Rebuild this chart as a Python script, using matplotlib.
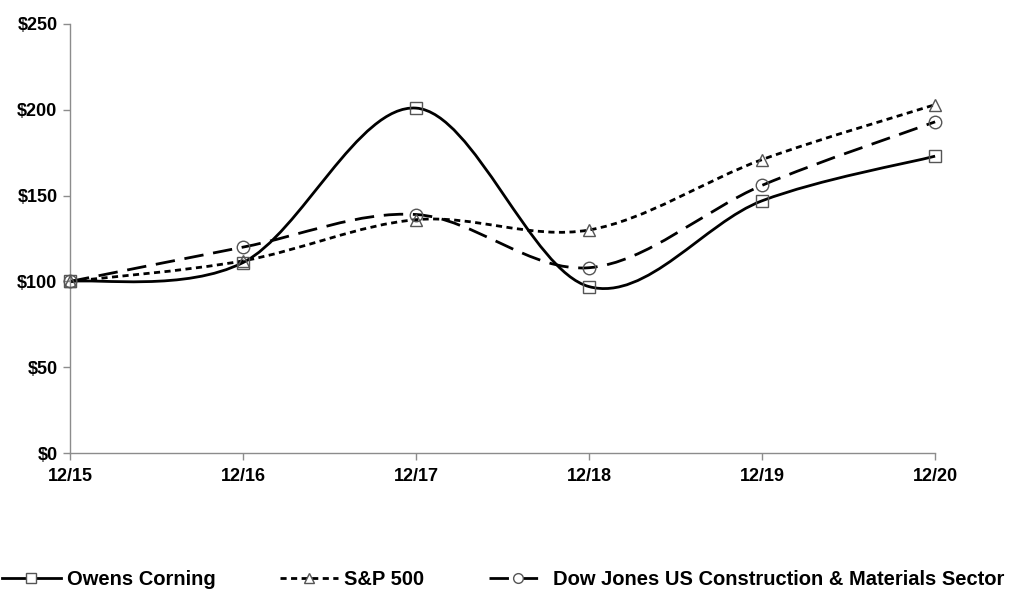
import matplotlib
matplotlib.use("Agg")
import matplotlib.pyplot as plt
import numpy as np
from matplotlib.lines import Line2D
from matplotlib.path import Path
from matplotlib.patches import PathPatch

plt.rcParams["font.family"] = ["Liberation Sans", "DejaVu Sans"]
plt.rcParams["font.weight"] = "bold"

# data
years = ["12/15", "12/16", "12/17", "12/18", "12/19", "12/20"]
owens = [100, 111, 201, 97, 147, 173]
sp500 = [100, 112, 136, 130, 171, 203]
dowjones = [100, 120, 139, 108, 156, 193]
y_ticks = [0, 50, 100, 150, 200, 250]


def smooth_path(xs, ys):
    # Excel style smoothed line: cubic bezier segments with catmull-rom tangents
    pts = np.column_stack([xs, ys]).astype(float)
    n = len(pts)
    verts = [pts[0]]
    codes = [Path.MOVETO]
    for i in range(n - 1):
        p_prev = pts[i - 1] if i > 0 else pts[i]
        p_next2 = pts[i + 2] if i + 2 < n else pts[i + 1]
        c1 = pts[i] + (pts[i + 1] - p_prev) / 6.0
        c2 = pts[i + 1] - (p_next2 - pts[i]) / 6.0
        verts += [c1, c2, pts[i + 1]]
        codes += [Path.CURVE4] * 3
    return Path(verts, codes)


series = [
    ("Owens Corning", owens, "s", (None, None), 9),
    ("S&P 500", sp500, "^", (2.2, 1.6), 9),
    ("Dow Jones US Construction & Materials Sector", dowjones, "o", (7.0, 3.5), 9),
]

fig = plt.figure(figsize=(10.13, 6.09), dpi=100)
ax = fig.add_axes([0.0691, 0.256, 0.854, 0.7046])

x = np.arange(len(years))
handles = []
for label, vals, mk, dash, ms in series:
    patch = PathPatch(smooth_path(x, vals), facecolor="none", edgecolor="black",
                      lw=2.0, capstyle="butt", clip_on=False)
    if dash[0] is not None:
        patch.set_linestyle((0, dash))
    ax.add_patch(patch)
    ax.plot(x, vals, linestyle="none", marker=mk, markersize=ms,
            markerfacecolor="none", markeredgecolor="#555555", markeredgewidth=1.0,
            zorder=3, clip_on=False)
    h = Line2D([], [], color="black", lw=2.0, marker=mk, markersize=7,
               markerfacecolor="white", markeredgecolor="#555555", markeredgewidth=1.0)
    if dash[0] is not None:
        h.set_dashes(dash)
    handles.append((h, label))

ax.set_xlim(0, len(years) - 1)
ax.set_ylim(0, 250)
ax.set_xticks(x)
ax.set_xticklabels(years)
ax.set_yticks(y_ticks)
ax.set_yticklabels([f"${v}" for v in y_ticks])
for lbl in ax.get_xticklabels() + ax.get_yticklabels():
    lbl.set_fontsize(13)
    lbl.set_fontweight("bold")

for side in ["top", "right"]:
    ax.spines[side].set_visible(False)
for side in ["left", "bottom"]:
    ax.spines[side].set_color("#8c8c8c")
    ax.spines[side].set_linewidth(1.0)
ax.tick_params(axis="both", colors="#8c8c8c", length=5, width=1.0, labelcolor="black")
ax.tick_params(axis="x", pad=6)
ax.tick_params(axis="y", pad=4)

fig.legend([h for h, _ in handles], [l for _, l in handles], loc="center",
           bbox_to_anchor=(0.497, 0.049), ncol=3, frameon=False,
           prop={"size": 14.5, "weight": "bold"}, handlelength=2.9,
           handletextpad=0.3, columnspacing=3.2)

fig.savefig("out.png", dpi=100)
